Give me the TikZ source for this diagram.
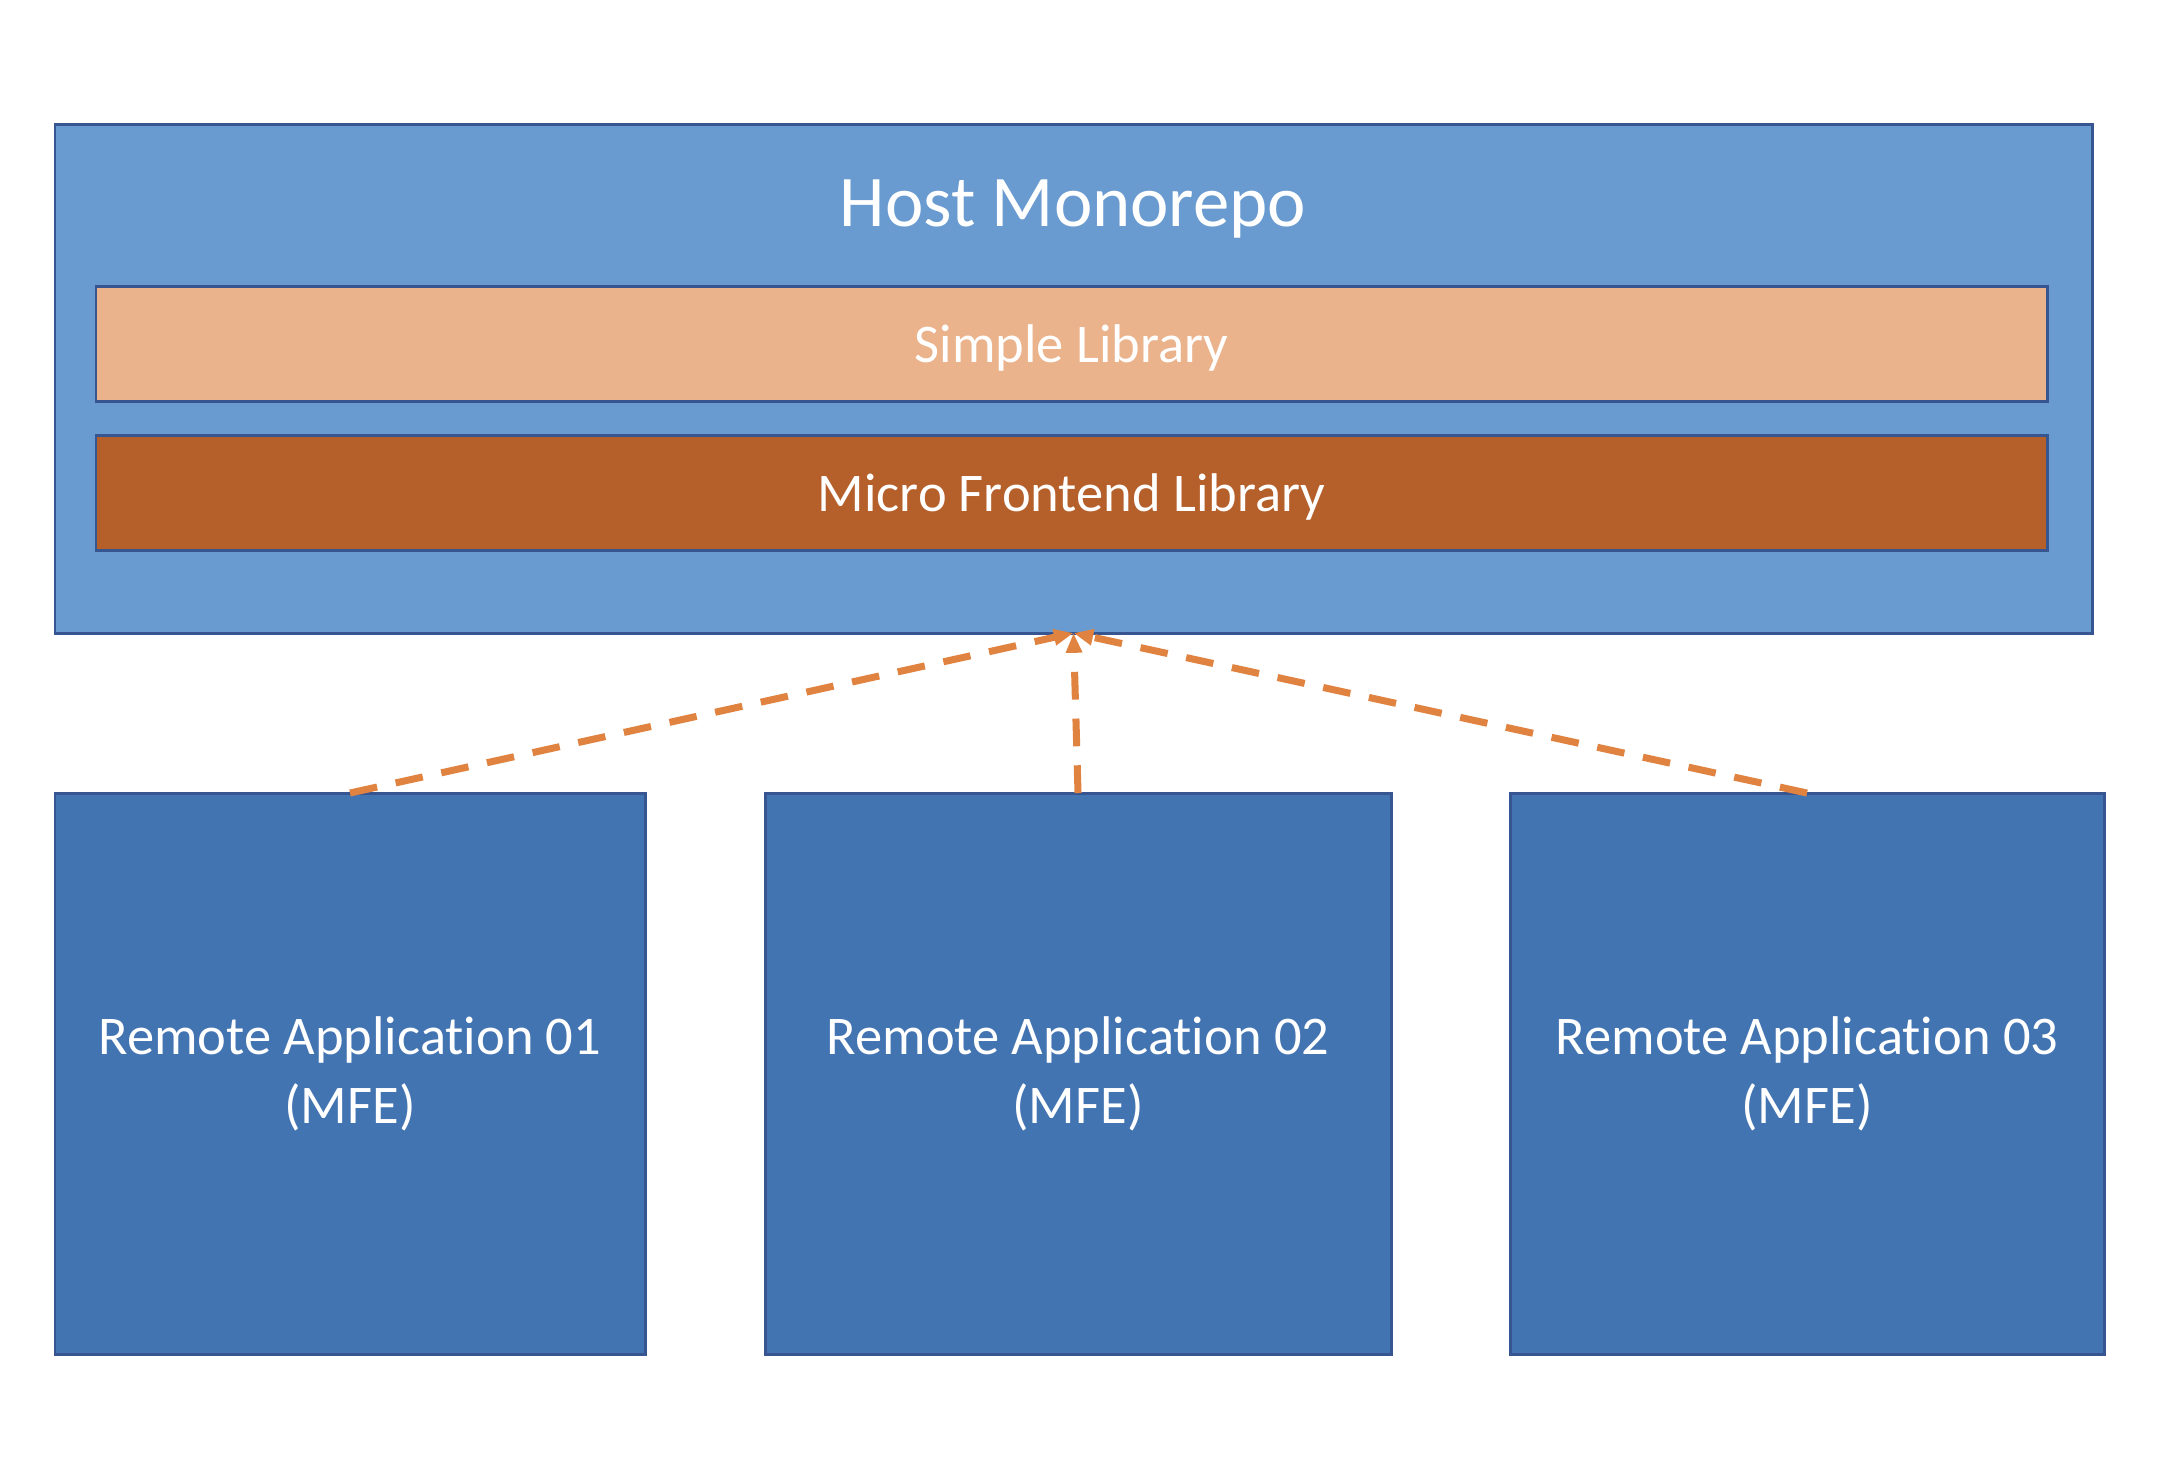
\documentclass[tikz,border=0pt]{standalone}
\usepackage{fontspec}
\setmainfont[Ligatures={NoCommon}]{Carlito}
\usetikzlibrary{arrows.meta}

\definecolor{hostblue}{HTML}{6A9BD0}
\definecolor{appblue}{HTML}{4374B2}
\definecolor{edgeblue}{HTML}{375591}
\definecolor{simplelib}{HTML}{EBB38B}
\definecolor{mfelib}{HTML}{B55F2A}
\definecolor{linkorange}{HTML}{E08240}

\begin{document}
\begin{tikzpicture}[
		box/.style={draw=edgeblue, line width=0.85pt, inner sep=0pt, outer sep=0pt, text=white, align=center, font=\fontsize{15.5}{19.6}\selectfont},
		lib/.style={box, minimum width=19.51cm, minimum height=1.15cm, text depth=0pt},
		app/.style={box, fill=appblue, minimum height=5.61cm},
		link/.style={draw=linkorange, line width=2pt, dash pattern=on 7.9pt off 5.4pt, -{Triangle[width=4.4pt, length=5.6pt]}}]
			\useasboundingbox (0, 0) rectangle (21.72, -14.80);

			\node[box, fill=hostblue, minimum width=20.37cm, minimum height=5.09cm] (host) at (10.735, -3.785) {};
			\node[text=white, font=\fontsize{20.7}{24}\selectfont] (title) at (10.73, -2.09) {Host Monorepo};
			\node[lib, fill=simplelib] (simple) at (10.715, -3.44) {Simple Library};
			\node[lib, fill=mfelib] (mfe) at (10.715, -4.93) {Micro Frontend Library};

			\node[app, minimum width=5.90cm] (app1) at (3.50, -10.735) {Remote Application 01\\(MFE)};
			\node[app, minimum width=6.26cm] (app2) at (10.78, -10.735) {Remote Application 02\\(MFE)};
			\node[app, minimum width=5.94cm] (app3) at (18.07, -10.735) {Remote Application 03\\(MFE)};

			\draw[link] (app1.north) to (host.south);
			\draw[link] (app2.north) to (host.south);
			\draw[link] (app3.north) to (host.south);
		\end{tikzpicture}
\end{document}
